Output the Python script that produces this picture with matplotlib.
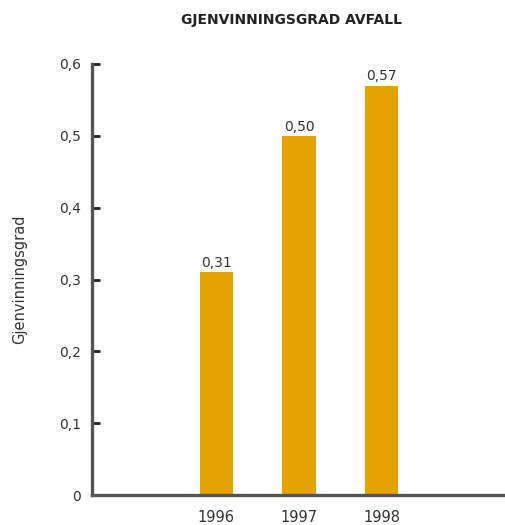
import matplotlib
matplotlib.use("Agg")
import matplotlib.pyplot as plt

years = ["1996", "1997", "1998"]
values = [0.31, 0.50, 0.57]
value_labels = ["0,31", "0,50", "0,57"]
yticks = [0, 0.1, 0.2, 0.3, 0.4, 0.5, 0.6]
ytick_labels = ["0", "0,1", "0,2", "0,3", "0,4", "0,5", "0,6"]

BAR = "#E5A300"
AXIS = "#555555"
TXT = "#333333"

fig = plt.figure(figsize=(5.06, 5.25), dpi=100)
ax = fig.add_axes([0.1818, 0.0571, 0.8182, 0.8210])

x = list(range(len(years)))
ax.bar(x, values, width=0.4, color=BAR, edgecolor="none")
for xi, v, lab in zip(x, values, value_labels):
    ax.text(xi, v + 0.003, lab, ha="center", va="bottom", fontsize=10, color=TXT)

ax.set_xlim(-1.5, 3.5)
ax.set_ylim(0, 0.6)
ax.set_xticks(x)
ax.set_xticklabels(years, fontsize=10.5, color=TXT)
ax.set_yticks(yticks)
ax.set_yticklabels(ytick_labels, fontsize=10, color=TXT)
ax.tick_params(axis="x", length=0, pad=11)
ax.tick_params(axis="y", direction="in", length=6, width=2, color="#222222", pad=8)

for side in ("top", "right"):
    ax.spines[side].set_visible(False)
for side in ("left", "bottom"):
    ax.spines[side].set_color(AXIS)
    ax.spines[side].set_linewidth(2.4)

ax.set_ylabel("Gjenvinningsgrad", fontsize=10.5, color=TXT, labelpad=23)
fig.text(0.577, 0.962, "GJENVINNINGSGRAD AVFALL", ha="center", va="center",
         fontsize=10, fontweight="bold", color="#222222")

fig.savefig("out.png", dpi=100)
